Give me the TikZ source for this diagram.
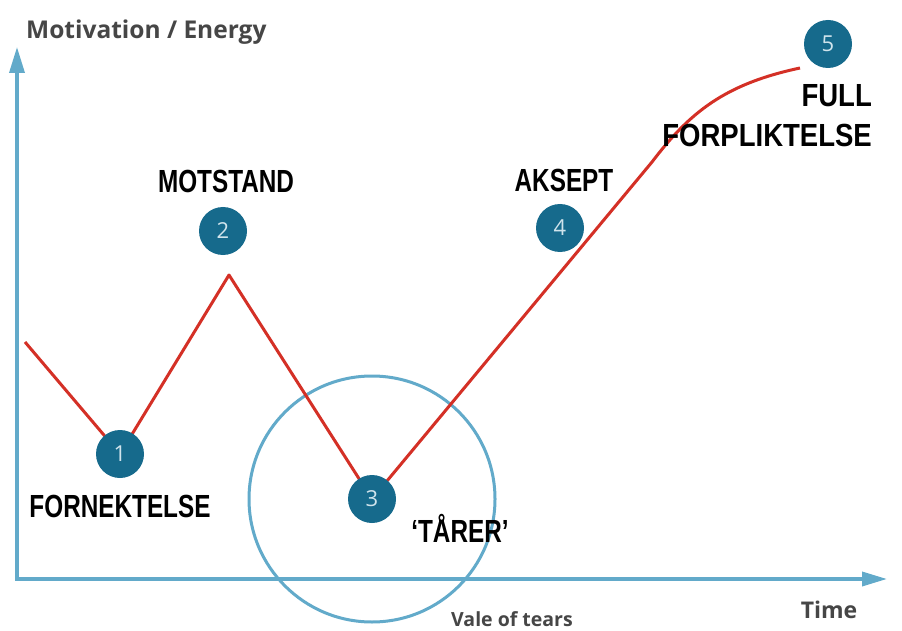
\documentclass[tikz,border=0pt]{standalone}
\usepackage{fontspec}
\usepackage{xcolor}
\usetikzlibrary{arrows.meta,backgrounds}
\setmainfont{Open Sans}
\newfontfamily\lblfont[FakeStretch=0.76]{Liberation Sans Bold}
\newfontfamily\lblwide[FakeStretch=0.86]{Liberation Sans Bold}
\definecolor{axisblue}{RGB}{98,170,202}
\definecolor{stageblue}{RGB}{22,106,140}
\definecolor{numfg}{RGB}{208,228,236}
\definecolor{curvered}{RGB}{212,48,38}
\definecolor{axistext}{RGB}{70,70,70}

\begin{document}
\begin{tikzpicture}[
			x=1pt, y=-1pt,
			stage/.style={
				circle,
				fill=stageblue,
				minimum size=48pt,
				inner sep=0pt,
				text=numfg,
				font=\fontsize{22}{22}\selectfont
			},
			phase/.style={
				anchor=base,
				inner sep=0pt,
				font=\lblfont\fontsize{32}{40}\selectfont
			},
			axislabel/.style={
				inner sep=0pt,
				text=axistext
			},
			axisline/.style={
				draw=axisblue,
				line width=3.5pt,
				{Triangle[length=26pt,width=15pt]}-{Triangle[length=25pt,width=14pt]}
			},
			curve/.style={
				draw=curvered,
				line width=3pt,
				line join=round
			}
			]
			\useasboundingbox (0,0) rectangle (902,631);
			
			% Stages along the curve
			\node[stage] (n1) at (120,454) {1};
			\node[stage] (n2) at (223,231) {2};
			\node[stage] (n3) at (372,499) {3};
			\node[stage] (n4) at (560,228) {4};
			\node[stage] (n5) at (828,44) {5};
			
			% Points of the curve
			\coordinate (start) at (25,342);
			\coordinate (peak) at (229,275);
			\coordinate (bend) at (652,162);
			\coordinate (top) at (800,68);
			
			% Axes
			\coordinate (origin) at (17,579);
			\coordinate (ytip) at (17,47);
			\coordinate (xtip) at (887,579);
			
			\begin{pgfonlayer}{background}
				\fill[white] (0,0) rectangle (902,631);
				\draw[axisline] (ytip) -- (origin) -- (xtip);
				\draw[axisblue, line width=3pt] (n3) circle[radius=123];
				\draw[curve] (start) -- (n1.center) -- (peak) -- (n3.center) -- (bend)
					.. controls (690,112) and (725,84) .. (top);
			\end{pgfonlayer}
			
			% Axis labels
			\node[axislabel, anchor=west, font=\bfseries\fontsize{24.5}{25}\selectfont] (ylabel) at (26,32) {Motivation / Energy};
			\node[axislabel, font=\bfseries\fontsize{23}{24}\selectfont] (xlabel) at (829,610) {Time};
			\node[axislabel, font=\bfseries\fontsize{19.5}{21}\selectfont] (vale) at (512,619) {Vale of tears};
			
			% Stage names
			\node[phase] (l1) at (120,517) {FORNEKTELSE};
			\node[phase] (l2) at (226,193) {MOTSTAND};
			\node[phase] (l3) at (460,542) {‘TÅRER’};
			\node[phase] (l4) at (564,192) {AKSEPT};
			\node[phase, anchor=base east, font=\lblwide\fontsize{32}{40}\selectfont] (l5a) at (872,107) {FULL};
			\node[phase, anchor=base east, font=\lblwide\fontsize{32}{40}\selectfont] (l5b) at (872,147) {FORPLIKTELSE};
			
		\end{tikzpicture}
\end{document}
